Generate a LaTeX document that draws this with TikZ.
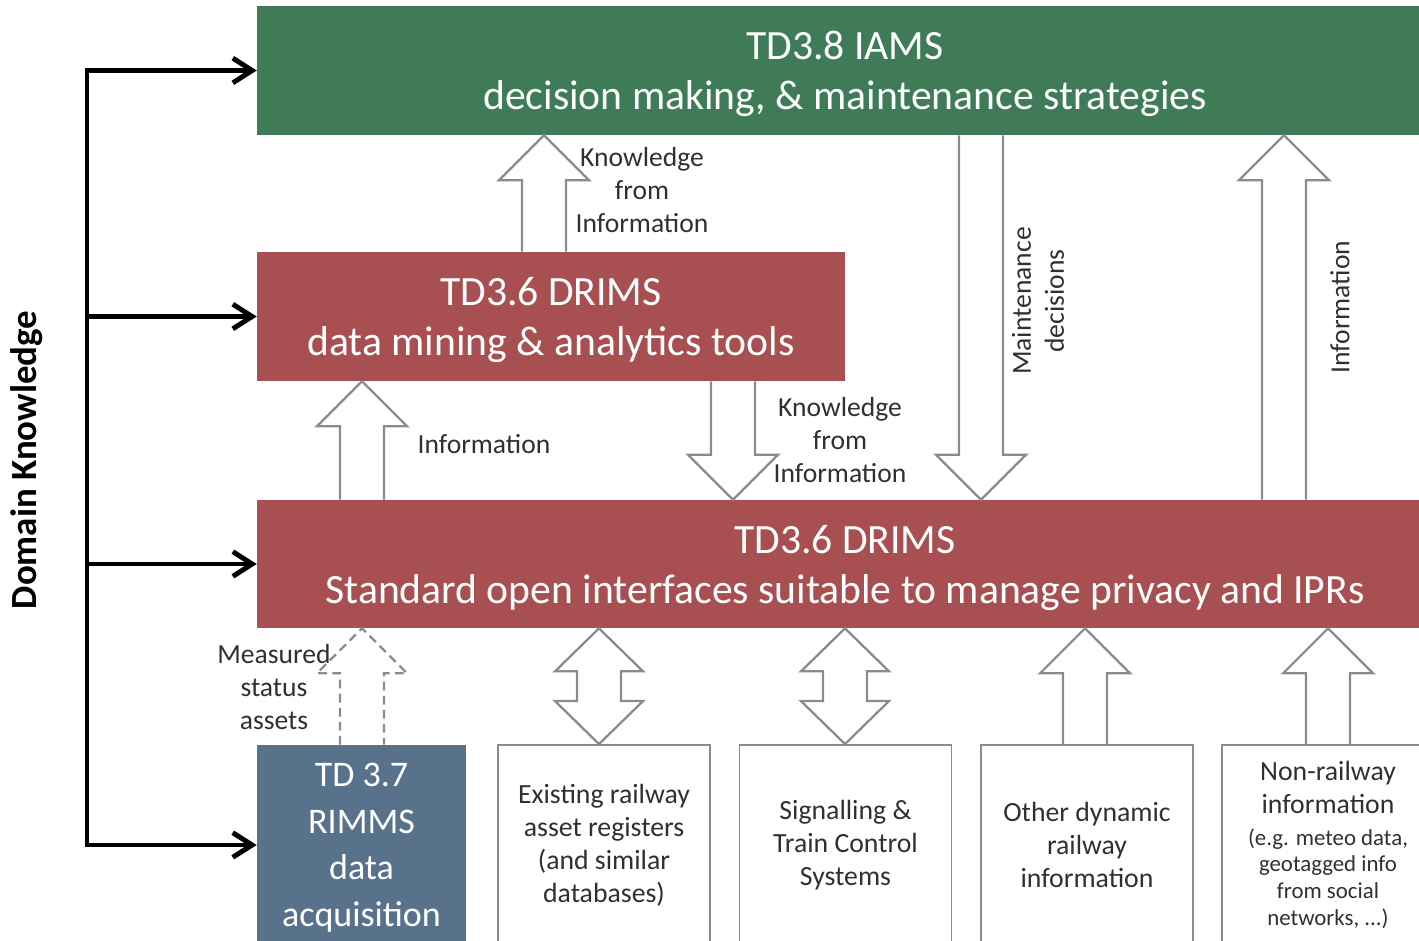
\documentclass[tikz,border=0pt]{standalone}
\usepackage{fontspec}
\setmainfont{Carlito}
\usetikzlibrary{calc,arrows.meta}

\definecolor{iamsgreen}{HTML}{3E7B56}
\definecolor{drimsred}{HTML}{A84F51}
\definecolor{rimmsblue}{HTML}{58728C}
\definecolor{fatgray}{HTML}{878C92}
\definecolor{txtgray}{HTML}{303030}

% hollow block arrows: x, tail node, head node
\newcommand\upblock[4][]{%
  \coordinate (tl) at (#2,0 |- #3.north);
  \coordinate (hd) at (#2,0 |- #4.south);
  \draw[fat,#1] ($(tl)+(-22,0)$) -- ($(hd)+(-22,45)$) -- ($(hd)+(-45,45)$) -- (hd)
    -- ($(hd)+(45,45)$) -- ($(hd)+(22,45)$) -- ($(tl)+(22,0)$);
}
\newcommand\downblock[3]{%
  \coordinate (tl) at (#1,0 |- #2.south);
  \coordinate (hd) at (#1,0 |- #3.north);
  \draw[fat] ($(tl)+(-22,0)$) -- ($(hd)+(-22,-45)$) -- ($(hd)+(-45,-45)$) -- (hd)
    -- ($(hd)+(45,-45)$) -- ($(hd)+(22,-45)$) -- ($(tl)+(22,0)$);
}
\newcommand\bothblock[3]{%
  \coordinate (ta) at (#1,0 |- #2.south);
  \coordinate (tb) at (#1,0 |- #3.north);
  \draw[fat] (ta) -- ($(ta)+(44,43)$) -- ($(ta)+(22,43)$) -- ($(tb)+(22,-43)$) -- ($(tb)+(44,-43)$)
    -- (tb) -- ($(tb)+(-44,-43)$) -- ($(tb)+(-22,-43)$) -- ($(ta)+(-22,43)$) -- ($(ta)+(-44,43)$) -- cycle;
}
\newcommand\smalltxt{\fontsize{13}{15.3}\selectfont}

\begin{document}
\begin{tikzpicture}[x=0.02cm,y=-0.02cm,
    box/.style={rectangle,inner sep=0pt,text=white,align=center,text depth=0pt,
      font=\fontsize{23.7}{28.4}\selectfont},
    srcbox/.style={rectangle,draw=gray!90,line width=1.1pt,inner sep=0pt,
      minimum width=4.24cm,minimum height=4cm,align=center,text=txtgray,
      font=\fontsize{15.8}{18.7}\selectfont},
    lbl/.style={align=center,text=txtgray,font=\fontsize{15.7}{18.7}\selectfont},
    fat/.style={draw=fatgray,line width=1.3pt,line join=miter},
    dk/.style={line width=2.8pt,black}
  ]
  \useasboundingbox (0,0) rectangle (1419,940);
  \clip (0,0) rectangle (1419,940);

  % boxes
  \node[box,fill=iamsgreen,minimum width=23.52cm,minimum height=2.58cm] (iams) at (845,70.5)
    {TD3.8 IAMS\\decision making, \& maintenance strategies};
  \node[box,fill=drimsred,minimum width=11.76cm,minimum height=2.58cm] (drimsa) at (551,316.5)
    {TD3.6 DRIMS\\data mining \& analytics tools};
  \node[box,fill=drimsred,minimum width=23.52cm,minimum height=2.56cm] (drimsb) at (845,564)
    {TD3.6 DRIMS\\Standard open interfaces suitable to manage privacy and IPRs};
  \node[box,fill=rimmsblue,minimum width=4.18cm,minimum height=4cm,
    font=\fontsize{20.5}{26.5}\selectfont] (rimms) at (361.5,845)
    {TD 3.7\\RIMMS\\data\\acquisition};
  \node[srcbox] (assets) at (604,845) {Existing railway\\asset registers\\(and similar\\databases)};
  \node[srcbox] (signal) at (845.5,845) {Signalling \&\\Train Control\\Systems};
  \node[srcbox] (dynamic) at (1087,845) {Other dynamic\\railway\\information};
  \node[srcbox] (nonrail) at (1328,845) {Non-railway\\information\\[-0.6pt]{\smalltxt(e.g. meteo data,}\\[-3.4pt]
    {\smalltxt geotagged info}\\[-3.4pt]{\smalltxt from social}\\[-3.4pt]{\smalltxt networks, ...)}};

  % block arrows
  \upblock{544}{drimsa}{iams}
  \upblock{362}{drimsb}{drimsa}
  \downblock{733}{drimsa}{drimsb}
  \downblock{981}{iams}{drimsb}
  \upblock{1284}{drimsb}{iams}
  \upblock[dash pattern=on 5pt off 3pt]{362}{rimms}{drimsb}
  \bothblock{599}{drimsb}{assets}
  \bothblock{845}{drimsb}{signal}
  \upblock{1085}{dynamic}{drimsb}
  \upblock{1328}{nonrail}{drimsb}

  \node[lbl] (kfia) at (642,190) {Knowledge\\from\\Information};
  \node[lbl] (infoa) at (484,444) {Information};
  \node[lbl] (kfib) at (840,440) {Knowledge\\from\\Information};
  \node[lbl,rotate=90] (maint) at (1038,301) {Maintenance\\decisions};
  \node[lbl,rotate=90] (infob) at (1340,307) {Information};
  \node[lbl] (meas) at (274,687) {Measured\\status\\assets};

  % domain knowledge
  \coordinate (dk) at (87,0);
  \draw[dk,line cap=rect] (iams.west -| dk) -- (rimms.west -| dk);
  \foreach \b in {iams,drimsa,drimsb,rimms}
    \draw[dk,-{Straight Barb[length=11pt,width=14pt,line width=2.8pt]}] (\b.west -| dk) -- (\b.west);
  \node[rotate=90,font=\bfseries\fontsize{21}{24}\selectfont] (domain) at (27,460) {Domain Knowledge};
\end{tikzpicture}
\end{document}
